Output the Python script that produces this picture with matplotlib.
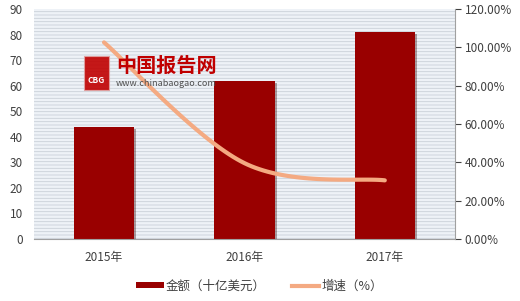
import numpy as np
import matplotlib
matplotlib.use("Agg")
import matplotlib.pyplot as plt
from matplotlib.patches import Rectangle
import matplotlib.patheffects as pe
from matplotlib.lines import Line2D
from matplotlib.patches import Patch

plt.rcParams['font.family'] = ['Noto Sans CJK SC', 'DejaVu Sans']
plt.rcParams['hatch.color'] = '#C9D0D8'
plt.rcParams['hatch.linewidth'] = 0.6

categories = ['2015年', '2016年', '2017年']
amount = [44, 62, 81]            # 金额（十亿美元）
growth = [102.6, 39.6, 30.6]     # 增速（%）
left_ticks = [0, 10, 20, 30, 40, 50, 60, 70, 80, 90]
right_ticks = [0, 20, 40, 60, 80, 100, 120]

bar_color = '#990000'
line_color = '#F4AA82'

fig = plt.figure(figsize=(5.2, 3.01), dpi=100)
ax = fig.add_axes([0.065, 0.206, 0.81, 0.764])
ax.set_facecolor('#EEF2F7')
ax.add_patch(Rectangle((0, 0), 1, 1, transform=ax.transAxes, facecolor='none',
                       edgecolor='#C9D0D8', hatch='-----', linewidth=0, zorder=0))

x = np.arange(len(categories))
bars = ax.bar(x, amount, width=0.43, color=bar_color, zorder=2,
              path_effects=[pe.SimplePatchShadow(offset=(1.5, -1.5), alpha=0.35), pe.Normal()])
ax.set_xlim(-0.5, 2.5)
ax.set_ylim(0, 90)
ax.set_yticks(left_ticks)
ax.set_xticks(x)
ax.set_xticklabels(categories)
ax.tick_params(axis='y', length=0, pad=8, labelsize=8.5, colors='#404040')
ax.tick_params(axis='x', length=0, pad=9, labelsize=8.5, colors='#404040')
for s in ['top', 'left', 'right']:
    ax.spines[s].set_visible(False)
ax.spines['bottom'].set_color('#A0A0A0')

ax2 = ax.twinx()
ax2.set_ylim(0, 120)
ax2.set_yticks(right_ticks)
ax2.set_yticklabels([f'{v:.2f}%' for v in right_ticks])
ax2.tick_params(axis='y', length=4, width=0.8, pad=3, labelsize=8.5, colors='#404040')
for t in ax2.yaxis.get_ticklines():
    t.set_color('#A0A0A0')
for s in ['top', 'left', 'bottom']:
    ax2.spines[s].set_visible(False)
ax2.spines['right'].set_color('#A0A0A0')

# smooth curve (Catmull-Rom style, like spreadsheet smoothing)
px = np.array(x, dtype=float)
py = np.array(growth, dtype=float)
xs, ys = [], []
n = len(px)
for i in range(n - 1):
    p0 = (px[max(i - 1, 0)], py[max(i - 1, 0)])
    p1 = (px[i], py[i])
    p2 = (px[i + 1], py[i + 1])
    p3 = (px[min(i + 2, n - 1)], py[min(i + 2, n - 1)])
    c1 = (p1[0] + (p2[0] - p0[0]) / 6, p1[1] + (p2[1] - p0[1]) / 6)
    c2 = (p2[0] - (p3[0] - p1[0]) / 6, p2[1] - (p3[1] - p1[1]) / 6)
    t = np.linspace(0, 1, 40)
    bx = (1 - t) ** 3 * p1[0] + 3 * (1 - t) ** 2 * t * c1[0] + 3 * (1 - t) * t ** 2 * c2[0] + t ** 3 * p2[0]
    by = (1 - t) ** 3 * p1[1] + 3 * (1 - t) ** 2 * t * c1[1] + 3 * (1 - t) * t ** 2 * c2[1] + t ** 3 * p2[1]
    xs.extend(bx)
    ys.extend(by)
ax2.plot(xs, ys, color=line_color, linewidth=3, solid_capstyle='round', zorder=3)

# watermark (on top of the plotted marks)
ax2.add_patch(Rectangle((0.119, 0.65), 0.06, 0.145, transform=ax2.transAxes,
                        facecolor='#C00000', edgecolor='#E0A0A0', linewidth=0.8, alpha=0.9, zorder=4))
ax2.text(0.149, 0.69, 'CBG', transform=ax2.transAxes, ha='center', va='center',
         fontsize=6, color='white', fontweight='bold', zorder=5)
ax2.text(0.195, 0.755, '中国报告网', transform=ax2.transAxes, ha='left', va='center',
         fontsize=14.5, color='#C00000', fontweight='bold', zorder=5)
ax2.text(0.195, 0.675, 'www.chinabaogao.com', transform=ax2.transAxes, ha='left', va='center',
         fontsize=6.5, color='#505050', zorder=5)

handles = [Patch(facecolor=bar_color, edgecolor='none'),
           Line2D([0], [0], color=line_color, linewidth=3)]
leg = fig.legend(handles, ['金额（十亿美元）', '增速（%）'], loc='center',
                 bbox_to_anchor=(0.499, 0.05), ncol=2, frameon=True, fontsize=9,
                 handlelength=2.2, handleheight=0.35, columnspacing=2.1, handletextpad=0.15,
                 borderpad=0.45, fancybox=False)
leg.get_frame().set_edgecolor('white')
leg.get_frame().set_facecolor('white')
for t in leg.get_texts():
    t.set_color('#404040')

fig.savefig('out.png', dpi=100)
